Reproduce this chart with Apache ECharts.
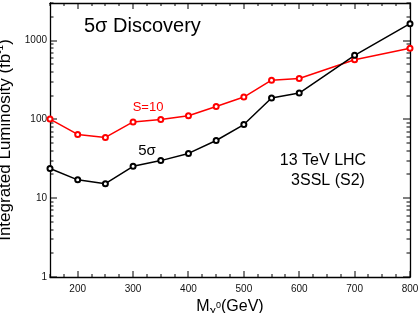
<!DOCTYPE html>
<html><head><meta charset="utf-8">
<script src="https://cdn.jsdelivr.net/npm/echarts@6/dist/echarts.min.js"></script>
<style>html,body{margin:0;padding:0;background:#fff}#c{width:420px;height:313px}</style>
</head><body><div id="c"></div>
<script>
const masses = [150, 200, 250, 300, 350, 400, 450, 500, 550, 600, 700, 800];
const lumi5sigma = [23.8, 17.1, 15.3, 25.4, 30, 37, 54, 86, 187, 216, 650, 1640];
const lumiS10 = [101, 64.5, 59, 93, 100, 111, 146, 192, 315, 330, 570, 800];
const xTickLabels = [200, 300, 400, 500, 600, 700, 800];
const yTickLabels = [1, 10, 100, 1000];

const FONT = 'Liberation Sans, Arial, sans-serif';
const xMinorVals = [];
for (let v = 150; v <= 800; v += 25) xMinorVals.push(v);
const yMinorVals = [];
for (let k = 0; k <= 3; k++) for (let m = 1; m <= 9; m++) { const v = m * Math.pow(10, k); if (v <= 3000) yMinorVals.push(v); }
const tickData = xMinorVals.map(v => [v, 30, 0, v % 100 === 0 ? 6 : 3])
  .concat(yMinorVals.map(v => [400, v, 1, yTickLabels.indexOf(v) >= 0 ? 7 : 3.5]));

const chart = echarts.init(document.getElementById('c'), null, {renderer: 'canvas'});
const axisLineStyle = {color: '#000', width: 1.3};
chart.setOption({
  animation: false,
  backgroundColor: '#fff',
  grid: {left: 50, right: 10, top: 3, bottom: 36, containLabel: false, outerBoundsMode: 'none'},
  xAxis: [{
    type: 'value', min: 150, max: 800, interval: 50,
    axisLine: {show: true, onZero: false, lineStyle: axisLineStyle},
    axisTick: {show: false}, splitLine: {show: false},
    axisLabel: {fontFamily: FONT, fontSize: 10, color: '#111', margin: 7,
      formatter: v => xTickLabels.indexOf(v) >= 0 ? String(v) : ''},
    name: '{a|M}{b|χ}{c|0}{a|(GeV)}', nameLocation: 'middle', nameGap: 17,
    nameTextStyle: {fontFamily: FONT, rich: {
      a: {fontFamily: FONT, fontSize: 16, color: '#000', lineHeight: 22, verticalAlign: 'middle'},
      b: {fontFamily: FONT, fontSize: 12, color: '#000', lineHeight: 12, verticalAlign: 'bottom'},
      c: {fontFamily: FONT, fontSize: 9, color: '#000', lineHeight: 9, verticalAlign: 'middle', padding: [0, 0, 2, 0]}
    }}
  }, {
    type: 'value', min: 150, max: 800, interval: 50, position: 'top',
    axisLine: {show: true, onZero: false, lineStyle: axisLineStyle},
    axisTick: {show: false}, axisLabel: {show: false}, splitLine: {show: false}
  }],
  yAxis: [{
    type: 'log', logBase: 10, min: 1, max: 3000,
    axisLine: {show: true, onZero: false, lineStyle: axisLineStyle},
    axisTick: {show: false}, splitLine: {show: false}, minorTick: {show: false},
    axisLabel: {fontFamily: FONT, fontSize: 10, color: '#111', margin: 3,
      formatter: v => yTickLabels.indexOf(Math.round(v)) >= 0 && Math.abs(v - Math.round(v)) < 1e-6 ? String(Math.round(v)) : ''},
    name: '{a|Integrated Luminosity (fb}{s|-1}{a|)}', nameLocation: 'middle', nameGap: 31, nameRotate: 90,
    nameTextStyle: {fontFamily: FONT, rich: {
      a: {fontFamily: FONT, fontSize: 17, color: '#000', lineHeight: 20, verticalAlign: 'middle'},
      s: {fontFamily: FONT, fontSize: 10, color: '#000', lineHeight: 10, verticalAlign: 'top'}
    }}
  }, {
    type: 'log', logBase: 10, min: 1, max: 3000, position: 'right',
    axisLine: {show: true, onZero: false, lineStyle: axisLineStyle},
    axisTick: {show: false}, axisLabel: {show: false}, splitLine: {show: false}
  }],
  graphic: [
    {type: 'text', left: 84, top: 16, style: {text: '5σ Discovery', font: '20px ' + FONT, fill: '#000'}},
    {type: 'text', x: 148, y: 107, style: {text: 'S=10', font: '13px ' + FONT, fill: '#ff0000', textAlign: 'center', textVerticalAlign: 'middle'}},
    {type: 'text', x: 147, y: 151, style: {text: '5σ', font: '15px ' + FONT, fill: '#000', textAlign: 'center', textVerticalAlign: 'middle'}},
    {type: 'text', x: 323, y: 161, style: {text: '13 TeV LHC', font: '16px ' + FONT, fill: '#000', textAlign: 'center', textVerticalAlign: 'middle'}},
    {type: 'text', x: 328, y: 181, style: {text: '3SSL (S2)', font: '16px ' + FONT, fill: '#000', textAlign: 'center', textVerticalAlign: 'middle'}}
  ],
  series: [{
    type: 'custom', data: tickData,
    renderItem: function (params, api) {
      const cs = params.coordSys;
      const bottom = cs.y + cs.height, top = cs.y, left = cs.x, right = cs.x + cs.width;
      const p = api.coord([api.value(0), api.value(1)]);
      const len = api.value(3);
      const st = {stroke: '#000', lineWidth: 1};
      if (api.value(2) === 0) {
        const px = Math.round(p[0]);
        return {type: 'group', children: [
          {type: 'line', shape: {x1: px, y1: bottom, x2: px, y2: bottom - len}, style: st},
          {type: 'line', shape: {x1: px, y1: top, x2: px, y2: top + len}, style: st}
        ]};
      }
      const py = Math.round(p[1]);
      return {type: 'group', children: [
        {type: 'line', shape: {x1: left, y1: py, x2: left + len, y2: py}, style: st},
        {type: 'line', shape: {x1: right, y1: py, x2: right - len, y2: py}, style: st}
      ]};
    }
  }, {
    type: 'line', name: 'S=10', data: masses.map((m, i) => [m, lumiS10[i]]),
    lineStyle: {color: '#ff0000', width: 1.5}, itemStyle: {color: '#ff0000', borderWidth: 1.3},
    symbol: 'emptyCircle', symbolSize: 5, z: 3
  }, {
    type: 'line', name: '5sigma', data: masses.map((m, i) => [m, lumi5sigma[i]]),
    lineStyle: {color: '#000', width: 1.5}, itemStyle: {color: '#000', borderWidth: 1.3},
    symbol: 'emptyCircle', symbolSize: 5, z: 4
  }]
});
</script></body></html>
